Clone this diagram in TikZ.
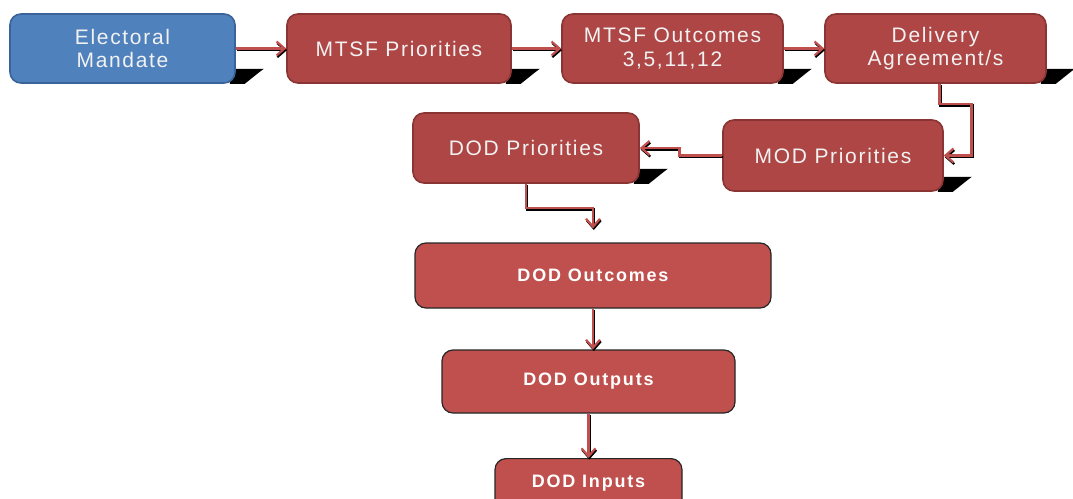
\documentclass[tikz,border=0pt]{standalone}
\usepackage{fontspec}
\setmainfont{Liberation Sans}
\newfontfamily\topfont[LetterSpace=8]{Liberation Sans}
\newfontfamily\botfont[LetterSpace=10]{Liberation Sans}
\usetikzlibrary{arrows.meta,backgrounds}
\definecolor{bluefill}{HTML}{4F81BD}
\definecolor{blueline}{HTML}{3A639A}
\definecolor{darkred}{HTML}{AD4644}
\definecolor{darkredline}{HTML}{8A3533}
\definecolor{lightred}{HTML}{C0504D}
\definecolor{arrred}{HTML}{C0504D}
\definecolor{txtgray}{HTML}{F2F2F2}
\tikzset{
  topbox/.style={draw=darkredline, line width=1.6pt, fill=darkred, rounded corners=11pt,
    inner sep=0pt, align=center, text=txtgray, font=\topfont\fontsize{21}{23.5}\selectfont},
  bluebox/.style={topbox, draw=blueline, fill=bluefill},
  botbox/.style={draw=black!85, line width=1.2pt, fill=lightred, rounded corners=11pt,
    inner sep=0pt, align=center, text=white, font=\botfont\bfseries\fontsize{18}{20}\selectfont},
  arr/.style={draw=arrred, line width=2.6pt,
    -{Straight Barb[length=8pt,width=14pt,line width=2.2pt]},
    preaction={draw=black, line width=2.6pt, transform canvas={xshift=0.8pt,yshift=-1.6pt}}},
  shadowfill/.style={fill=black}
}
\begin{document}
\begin{tikzpicture}[x=1pt,y=-1pt]
\useasboundingbox (0,0) rectangle (1073,498);
\node[bluebox, minimum width=225pt, minimum height=69pt] (em) at (122.5,48.5) {Electoral\\Mandate};
\node[topbox, minimum width=224pt, minimum height=69pt] (mp) at (399,48.5) {MTSF Priorities};
\node[topbox, minimum width=221pt, minimum height=69pt] (mo) at (672.5,48.5) {MTSF Outcomes\\3,5,11,12};
\node[topbox, minimum width=221pt, minimum height=69pt] (da) at (935.5,48.5) {Delivery\\Agreement/s};
\node[topbox, minimum width=220pt, minimum height=71pt] (mod) at (833,155.5) {MOD Priorities};
\node[topbox, minimum width=226pt, minimum height=70pt] (dp) at (526,148) {DOD Priorities};
\node[botbox, minimum width=356pt, minimum height=65pt] (oc) at (593,275.5) {DOD Outcomes};
\node[botbox, minimum width=293pt, minimum height=63pt] (op) at (588.5,381.5) {DOD Outputs};
\node[botbox, minimum width=187pt, minimum height=62pt, anchor=north] (ip) at (588.5,458) {\raisebox{16pt}{DOD Inputs}};
\coordinate (t1) at ([yshift=14pt]oc.north);
\begin{scope}[on background layer]
  \foreach \n in {em,mp,mo,da,mod,dp}{
    \fill[shadowfill] ([xshift=-6pt,yshift=15pt]\n.south east) -- ([xshift=28pt,yshift=15pt]\n.south east)
      -- ([xshift=24pt,yshift=12pt]\n.south east) -- ([xshift=9pt,yshift=0pt]\n.south east)
      -- ([xshift=-6pt]\n.south east) -- cycle;
  }
\end{scope}
\draw[arr] (em.east) -- (mp.west);
\draw[arr] (mp.east) -- (mo.west);
\draw[arr] (mo.east) -- (da.west);
\draw[arr] ([xshift=4pt]da.south) -- ++(0,20) -- ++(32,0) |- (mod.east);
\draw[arr] (mod.west) -- ++(-43,0) |- (dp.east);
\draw[arr] (dp.south) -- ++(0,24) -| (t1);
\draw[arr] (oc.south) -- (oc.south |- op.north);
\draw[arr] (op.south) -- (ip.north);
\end{tikzpicture}
\end{document}
